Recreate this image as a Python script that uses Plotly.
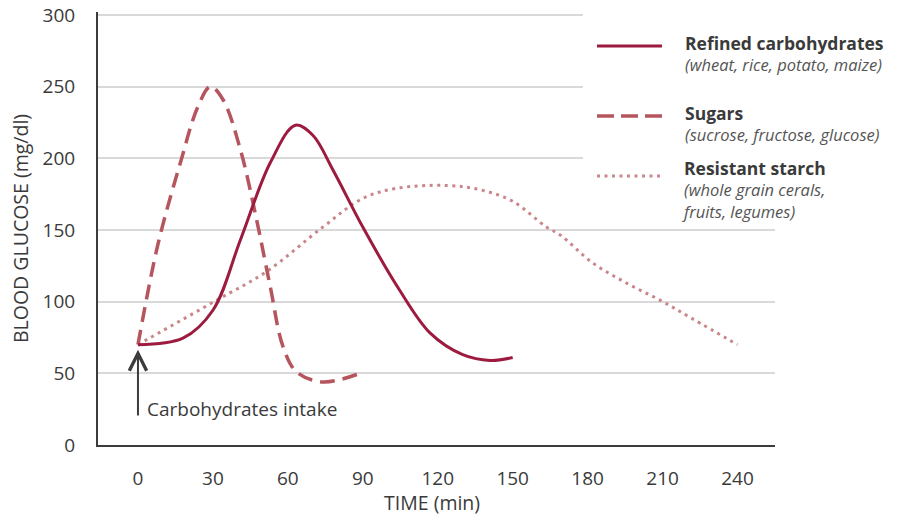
import plotly.graph_objects as go

# ---- data (time in minutes, blood glucose in mg/dl) ----
refined_t = [0, 18, 30, 41, 53, 63, 70, 78, 90, 104, 117, 130, 141, 150]
refined_v = [70, 74.5, 94, 143, 197, 223, 216, 192, 152, 110, 78, 63, 59, 61]

sugars_t = [0, 8, 17, 24, 29, 34, 41, 47.5, 53, 58, 63.5, 74, 89]
sugars_v = [70, 140, 197, 236, 250, 241, 206, 157, 110, 69, 51, 44, 50]

starch_t = [0, 31.5, 51.5, 74, 90, 103.5, 123.5, 137, 150, 163.5, 169, 182, 195.5, 209, 222, 240]
starch_v = [70, 101, 121, 152, 172, 179, 181, 178, 170, 152, 146.5, 127, 113, 101, 88, 70]

x_ticks = [0, 30, 60, 90, 120, 150, 180, 210, 240]
y_ticks = [0, 50, 100, 150, 200, 250, 300]

legend_titles = ["Refined carbohydrates", "Sugars", "Resistant starch"]
legend_subs = ["(wheat, rice, potato, maize)", "(sucrose, fructose, glucose)",
               "(whole grain cerals,<br>fruits, legumes)"]

intake_label = "Carbohydrates intake"
x_title = "TIME (min)"
y_title = "BLOOD GLUCOSE (mg/dl)"

# ---- styles ----
FONT = "Open Sans"
C_REF = "#9c1b3f"
C_SUG = "#b5555e"
C_STA = "#c9868b"
C_TXT = "#3a3a3a"
C_SUB = "#555555"
C_AX = "#3c3c3c"

W, H = 899, 522
ML, MR, MT, MB = 98, 124, 12, 77
PW, PH = W - ML - MR, H - MT - MB


def px_x(p):
    return (p - ML) / PW


def px_y(p):
    return (H - MB - p) / PH


fig = go.Figure()
fig.add_trace(go.Scatter(x=starch_t, y=starch_v, mode="lines",
                         line=dict(color=C_STA, width=3, dash="3px,4.5px", shape="spline"),
                         showlegend=False, hoverinfo="skip"))
fig.add_trace(go.Scatter(x=sugars_t, y=sugars_v, mode="lines",
                         line=dict(color=C_SUG, width=3.5, dash="15px,8px", shape="spline"),
                         showlegend=False, hoverinfo="skip"))
fig.add_trace(go.Scatter(x=refined_t, y=refined_v, mode="lines",
                         line=dict(color=C_REF, width=3, shape="spline"),
                         showlegend=False, hoverinfo="skip"))

shapes = [
    # white backdrop behind legend (hides gridlines)
    dict(type="rect", xref="paper", yref="paper", x0=px_x(583), x1=px_x(899),
         y0=px_y(216), y1=px_y(0), fillcolor="white", line=dict(width=0), layer="above"),
]
leg_styles = [
    dict(color=C_REF, width=3, dash="solid"),
    dict(color=C_SUG, width=3.5, dash="17px,7px"),
    dict(color=C_STA, width=3, dash="3px,4.5px"),
]
leg_line_y = [46, 116, 176]
for st, ly in zip(leg_styles, leg_line_y):
    shapes.append(dict(type="line", xref="paper", yref="paper",
                       x0=px_x(597), x1=px_x(662), y0=px_y(ly), y1=px_y(ly),
                       line=st, layer="above"))

annotations = []
entry_top = [29, 99, 154]
entry_left = [683, 683, 680]
for t, s, ty, tx in zip(legend_titles, legend_subs, entry_top, entry_left):
    txt = ("<span style='font-size:17.5px;color:%s'><b>%s</b></span><br>"
           "<span style='color:%s'><i>%s</i></span>") % (C_TXT, t, C_SUB, s)
    annotations.append(dict(xref="paper", yref="paper", x=px_x(tx), y=px_y(ty),
                            text=txt, showarrow=False, xanchor="left",
                            yanchor="top", align="left",
                            font=dict(family=FONT, size=16.5, color=C_SUB)))

# arrow for carbohydrate intake
annotations.append(dict(x=0, y=66.5, ax=0, ay=19.5, xref="x", yref="y", axref="x", ayref="y",
                        showarrow=True, arrowhead=5, arrowsize=1.7, arrowwidth=2,
                        arrowcolor=C_AX, text=""))
annotations.append(dict(x=3, y=25, xref="x", yref="y", text=intake_label, showarrow=False,
                        xanchor="left", yanchor="middle",
                        font=dict(family=FONT, size=19, color=C_TXT)))

# axis titles
annotations.append(dict(xref="paper", yref="paper", x=px_x(432), y=px_y(502), text=x_title,
                        showarrow=False, xanchor="center", yanchor="middle",
                        font=dict(family=FONT, size=19.5, color=C_TXT)))
annotations.append(dict(xref="paper", yref="paper", x=px_x(21), y=px_y(229), text=y_title,
                        showarrow=False, xanchor="center", yanchor="middle", textangle=-90,
                        font=dict(family=FONT, size=19.5, color=C_TXT)))

fig.update_layout(
    width=W, height=H,
    margin=dict(l=ML, r=MR, t=MT, b=MB),
    paper_bgcolor="white", plot_bgcolor="white",
    font=dict(family=FONT, size=19, color=C_TXT),
    shapes=shapes, annotations=annotations, showlegend=False,
)
fig.update_xaxes(range=[-16, 255], tickvals=x_ticks, ticktext=[str(v) for v in x_ticks],
                 showgrid=False, zeroline=False, showline=True, linecolor=C_AX, linewidth=2,
                 ticks="", ticklabelstandoff=15, automargin=False,
                 tickfont=dict(family=FONT, size=19, color=C_TXT))
fig.update_yaxes(range=[0, 302], tickvals=y_ticks, ticktext=[str(v) for v in y_ticks],
                 showgrid=True, gridcolor="#d9d9d9", gridwidth=1.5, zeroline=False,
                 showline=True, linecolor=C_AX, linewidth=2,
                 ticks="", ticklabelstandoff=17, automargin=False,
                 tickfont=dict(family=FONT, size=19, color=C_TXT))

fig.write_html("out.html", config={"displayModeBar": False},
               post_script="document.body.style.margin='0';")
